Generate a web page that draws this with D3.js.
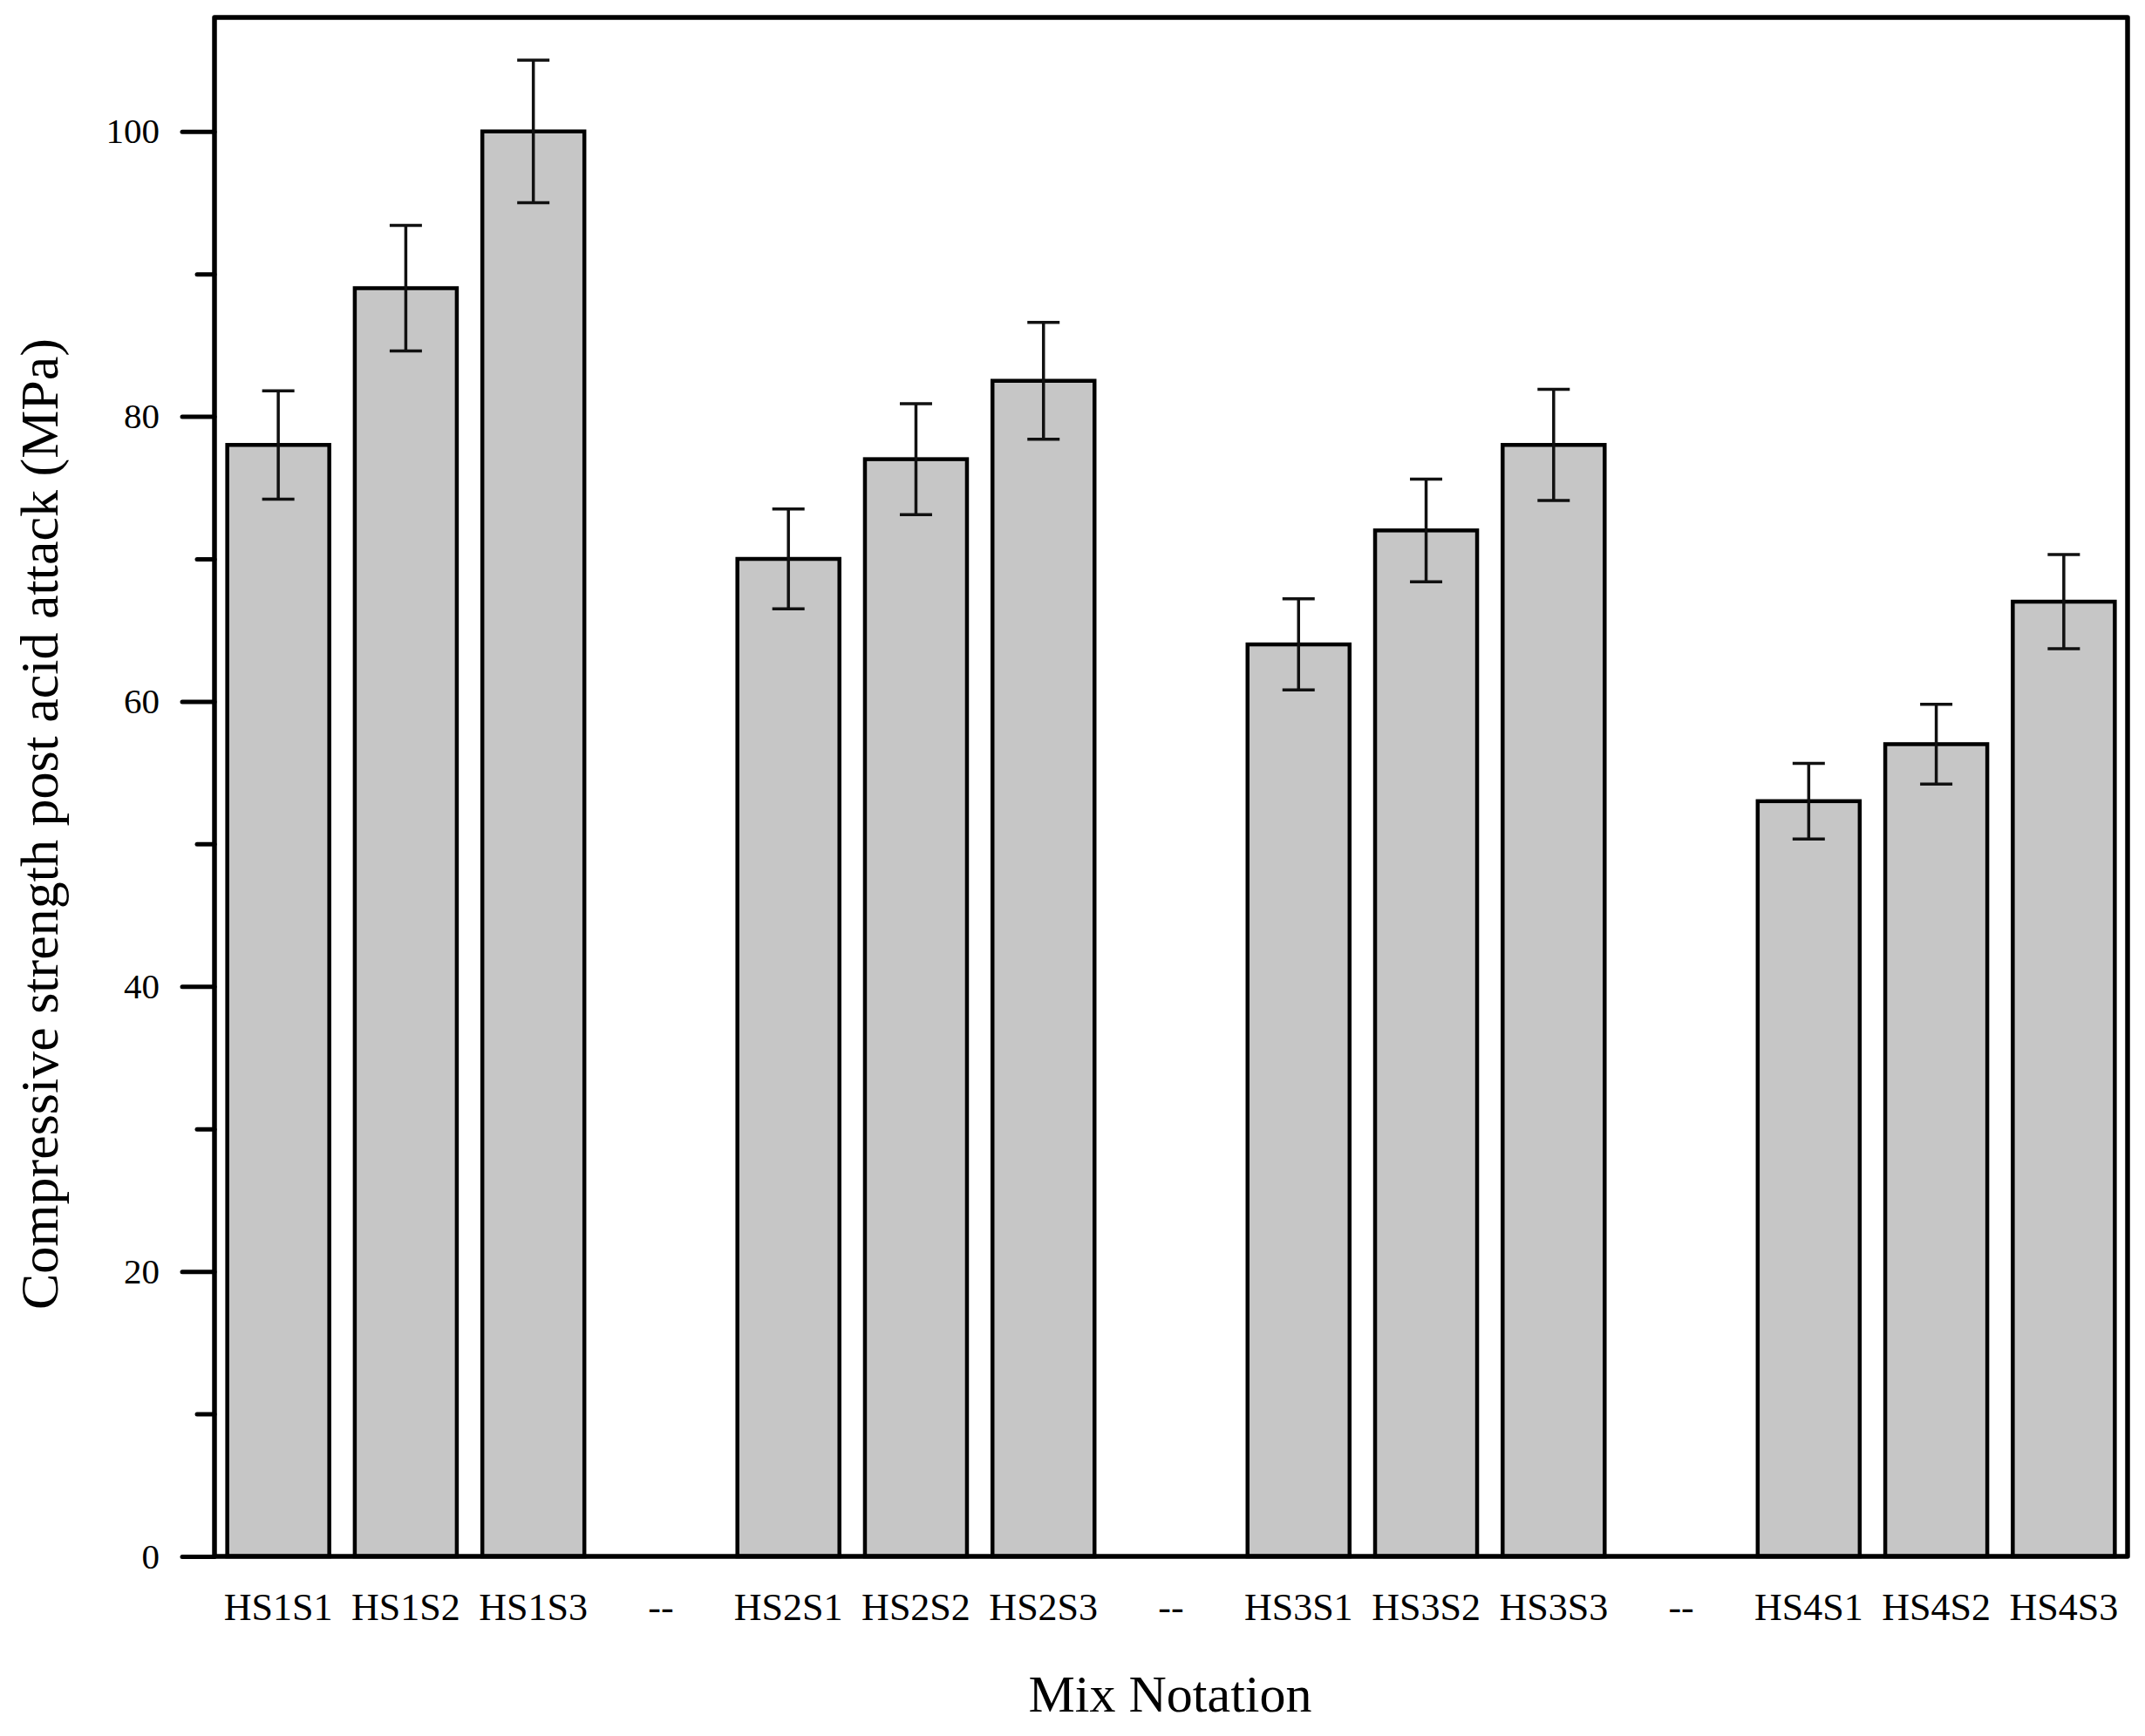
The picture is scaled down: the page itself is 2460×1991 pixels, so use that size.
<!DOCTYPE html>
<html>
<head>
<meta charset="utf-8">
<script src="https://cdn.jsdelivr.net/npm/d3@7"></script>
<style>
  html, body { margin: 0; padding: 0; background: #fff; }
  svg { display: block; }
  text { font-family: "Liberation Serif", "Times New Roman", serif; fill: #000; }
</style>
</head>
<body>
<svg id="chart" width="2460" height="1991"></svg>
<script>
// ---- data ----
const slotLabels = ["HS1S1","HS1S2","HS1S3","--","HS2S1","HS2S2","HS2S3","--","HS3S1","HS3S2","HS3S3","--","HS4S1","HS4S2","HS4S3"];
const mixes = ["HS1S1","HS1S2","HS1S3","HS2S1","HS2S2","HS2S3","HS3S1","HS3S2","HS3S3","HS4S1","HS4S2","HS4S3"];
const strength = [78, 89, 100, 70, 77, 82.5, 64, 72, 78, 53, 57, 67];
const errors = [3.8, 4.4, 5.0, 3.5, 3.9, 4.1, 3.2, 3.6, 3.9, 2.65, 2.8, 3.3];
const yMajorTicks = [0, 20, 40, 60, 80, 100];
const yMinorTicks = [10, 30, 50, 70, 90];
const yTitle = "Compressive strength post acid attack (MPa)";
const xTitle = "Mix Notation";

// ---- layout ----
const plotL = 246, plotR = 2440, plotT = 20, plotB = 1785;
const svg = d3.select("#chart");

const x = d3.scaleBand()
  .domain(d3.range(slotLabels.length))
  .range([plotL, plotR])
  .paddingInner(0.2)
  .paddingOuter(0.1);

const y = d3.scaleLinear().domain([0, 108]).range([plotB, plotT]);

// bars
const data = mixes.map((m, i) => ({ name: m, value: strength[i], err: errors[i], slot: slotLabels.indexOf(m) }));

svg.append("g").selectAll("rect")
  .data(data)
  .join("rect")
  .attr("x", d => x(d.slot))
  .attr("y", d => y(d.value))
  .attr("width", x.bandwidth())
  .attr("height", d => y(0) - y(d.value))
  .attr("fill", "#c6c6c6")
  .attr("stroke", "#000")
  .attr("stroke-width", 4.5);

// error bars
const capW = 37;
const eb = svg.append("g").attr("stroke", "#111").attr("stroke-width", 3.5);
data.forEach(d => {
  const cx = x(d.slot) + x.bandwidth() / 2;
  eb.append("line").attr("x1", cx).attr("x2", cx).attr("y1", y(d.value + d.err)).attr("y2", y(d.value - d.err));
  eb.append("line").attr("x1", cx - capW / 2).attr("x2", cx + capW / 2).attr("y1", y(d.value + d.err)).attr("y2", y(d.value + d.err));
  eb.append("line").attr("x1", cx - capW / 2).attr("x2", cx + capW / 2).attr("y1", y(d.value - d.err)).attr("y2", y(d.value - d.err));
});

// y axis major
const yAxis = svg.append("g")
  .attr("transform", `translate(${plotL},0)`)
  .call(d3.axisLeft(y).tickValues(yMajorTicks).tickSize(37).tickPadding(26).tickFormat(d3.format("d")));
yAxis.select(".domain").remove();
yAxis.selectAll(".tick line").attr("stroke", "#000").attr("stroke-width", 5).attr("stroke-linecap", "round");
yAxis.selectAll(".tick text").attr("font-size", 41).attr("font-family", "Liberation Serif");

// y axis minor
const yMinor = svg.append("g")
  .attr("transform", `translate(${plotL},0)`)
  .call(d3.axisLeft(y).tickValues(yMinorTicks).tickSize(20).tickFormat(""));
yMinor.select(".domain").remove();
yMinor.selectAll(".tick line").attr("stroke", "#000").attr("stroke-width", 5).attr("stroke-linecap", "round");

// x axis labels
const xAxis = svg.append("g")
  .attr("transform", `translate(0,${plotB})`)
  .call(d3.axisBottom(x).tickSize(0).tickPadding(42).tickFormat(i => slotLabels[i]));
xAxis.select(".domain").remove();
xAxis.selectAll(".tick text").attr("font-size", 44).attr("font-family", "Liberation Serif");

// frame
svg.append("rect")
  .attr("x", plotL).attr("y", plotT)
  .attr("width", plotR - plotL).attr("height", plotB - plotT)
  .attr("fill", "none").attr("stroke", "#000").attr("stroke-width", 5.5)
  .attr("stroke-linejoin", "round");

// titles
svg.append("text")
  .attr("transform", `translate(66,945) rotate(-90)`)
  .attr("text-anchor", "middle")
  .attr("font-size", 62)
  .text(yTitle);

svg.append("text")
  .attr("x", 1342).attr("y", 1963)
  .attr("text-anchor", "middle")
  .attr("font-size", 60)
  .text(xTitle);
</script>
</body>
</html>
